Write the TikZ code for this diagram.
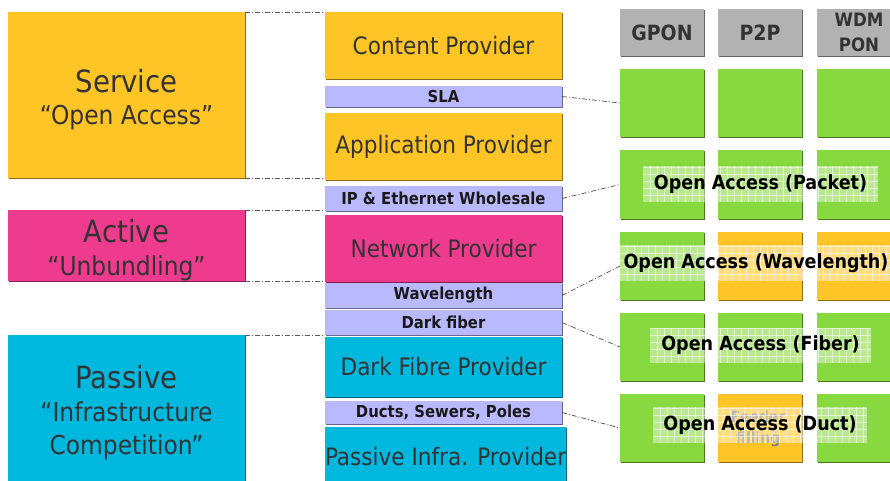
\documentclass[tikz,border=0pt]{standalone}
\usepackage{fontspec}
\setmainfont{DejaVu Sans Condensed}
\usetikzlibrary{shadows}
\definecolor{cOr}{RGB}{255,196,37}
\definecolor{cPk}{RGB}{239,59,141}
\definecolor{cCy}{RGB}{0,183,222}
\definecolor{cLv}{RGB}{185,185,255}
\definecolor{cGr}{RGB}{136,217,64}
\definecolor{cGy}{RGB}{178,178,178}
\definecolor{cTx}{RGB}{51,51,51}
\begin{document}
\begin{tikzpicture}[x=1pt,y=-1pt,
  box/.style={anchor=north west, inner sep=0pt, outer sep=0pt, align=center,
    text=cTx, fill=#1,
    drop shadow={shadow xshift=1.2pt, shadow yshift=-1.2pt, fill=#1!55!black, opacity=1}},
  bigtxt/.style={font=\fontsize{24}{28}\selectfont},
  smalltxt/.style={font=\bfseries\fontsize{16.5}{18}\selectfont, text=black!90},
  hdrtxt/.style={font=\bfseries\fontsize{21}{24}\selectfont},
  cell/.style={box=#1, minimum width=84pt, minimum height=68pt},
  band/.style={fill=white, fill opacity=0.42, text opacity=1, inner sep=0pt, outer sep=0pt,
    text=black, font=\bfseries\fontsize{19.5}{22}\selectfont,
    path picture={\foreach \k in {1,...,40}{
      \draw[white, line width=0.6pt, opacity=0.55]
        ([xshift=\k*7pt]path picture bounding box.south west) --
        ([xshift=\k*7pt]path picture bounding box.north west);
      \draw[white, line width=0.6pt, opacity=0.55]
        ([yshift=\k*7pt]path picture bounding box.south west) --
        ([yshift=\k*7pt]path picture bounding box.south east);}}},
  conn/.style={draw=black!70, line width=0.7pt, dash pattern=on 5pt off 2pt on 1pt off 2pt},
  hconn/.style={draw=black!65, line width=0.7pt, dash pattern=on 5pt off 2pt on 1pt off 2pt}
]
\fill[white] (0,0) rectangle (890,481);
\useasboundingbox (0,0) rectangle (890,481);

% left column
\node[box=cOr, minimum width=237pt, minimum height=166pt, font=\fontsize{26}{32}\selectfont]
  (service) at (8,12) {{\fontsize{30.6}{32}\selectfont\rule{0pt}{32pt}Service}\\“Open Access”};
\node[box=cPk, minimum width=237pt, minimum height=71pt, font=\fontsize{26}{33}\selectfont]
  (active) at (8,210) {{\fontsize{30.6}{33}\selectfont\rule{0pt}{32pt}Active}\\“Unbundling”};
\node[box=cCy, minimum width=237pt, minimum height=155pt, font=\fontsize{26}{33}\selectfont]
  (passive) at (8,335) {{\fontsize{30.6}{35}\selectfont Passive}\\“Infrastructure\\Competition”};

% middle column
\node[box=cOr, minimum width=237pt, minimum height=67pt, bigtxt] (content) at (325,12) {Content Provider};
\node[box=cLv, minimum width=237pt, minimum height=21pt, smalltxt] (sla) at (325,86) {SLA};
\node[box=cOr, minimum width=237pt, minimum height=67pt, bigtxt] (app) at (325,113) {Application Provider};
\node[box=cLv, minimum width=237pt, minimum height=25pt, smalltxt] (ip) at (325,186) {IP \& Ethernet Wholesale};
\node[box=cPk, minimum width=237pt, minimum height=67pt, bigtxt] (net) at (325,215) {Network Provider};
\node[box=cLv, minimum width=237pt, minimum height=25pt, smalltxt] (wave) at (325,283) {Wavelength};
\node[box=cLv, minimum width=237pt, minimum height=25pt, smalltxt] (dfib) at (325,310) {Dark fiber};
\node[box=cCy, minimum width=237pt, minimum height=60pt, bigtxt] (dfp) at (325,337) {Dark Fibre Provider};
\node[box=cLv, minimum width=237pt, minimum height=23pt, smalltxt] (ducts) at (325,401) {Ducts, Sewers, Poles};
\node[box=cCy, minimum width=237pt, minimum height=60pt, bigtxt] (pip) at (325,427) {Passive Infra. Provider};

% right grid headers
\node[box=cGy, minimum width=84pt, minimum height=47pt, hdrtxt] (g0) at (620,9) {GPON};
\node[box=cGy, minimum width=84pt, minimum height=47pt, hdrtxt] (p0) at (718,9) {P2P};
\node[box=cGy, minimum width=84pt, minimum height=47pt, font=\bfseries\fontsize{18.5}{25}\selectfont] (w0) at (817,9) {WDM\\PON};

% grid cells
\node[cell=cGr] (g1) at (620,69) {};
\node[cell=cGr] (p1) at (718,69) {};
\node[cell=cGr] (w1) at (817,69) {};
\node[cell=cGr, minimum height=69pt] (g2) at (620,150) {};
\node[cell=cGr, minimum height=69pt] (p2) at (718,150) {};
\node[cell=cGr, minimum height=69pt] (w2) at (817,150) {};
\node[cell=cGr] (g3) at (620,232) {};
\node[cell=cOr] (p3) at (718,232) {};
\node[cell=cOr] (w3) at (817,232) {};
\node[cell=cGr] (g4) at (620,313) {};
\node[cell=cGr] (p4) at (718,313) {};
\node[cell=cGr] (w4) at (817,313) {};
\node[cell=cGr] (g5) at (620,394) {};
\node[cell=cOr] (p5) at (718,394) {};
\node[cell=cGr] (w5) at (817,394) {};

\node[font=\bfseries\fontsize{15.5}{21}\selectfont, text=black!50, align=center] (ff) at (758,429) {Feeder\\filling};

% bands
\node[band, minimum width=235pt, minimum height=36pt] (lp) at (760.5,184) {Open Access (Packet)};
\node[band, minimum width=272pt, minimum height=36pt] (lw) at (756,263) {Open Access (Wavelength)};
\node[band, minimum width=221pt, minimum height=35pt] (lf) at (760.5,345.5) {Open Access (Fiber)};
\node[band, minimum width=214pt, minimum height=36pt] (ld) at (760,425) {Open Access (Duct)};

% connectors
\draw[hconn] (service.north east) -- (service.north east -| content.west);
\draw[hconn] (service.south east) -- (service.south east -| app.west);
\draw[hconn] (active.north east) -- (active.north east -| net.west);
\draw[hconn] (active.south east) -- (active.south east -| net.west);
\draw[hconn] (passive.north east) -- (passive.north east -| dfp.west);

\draw[conn] (sla.east) -- (g1.west);
\draw[conn] (ip.east) -- (g2.west);
\draw[conn] (wave.east) -- (g3.west);
\draw[conn] (dfib.east) -- (g4.west);
\draw[conn] (ducts.east) -- (g5.west);
\end{tikzpicture}
\end{document}
